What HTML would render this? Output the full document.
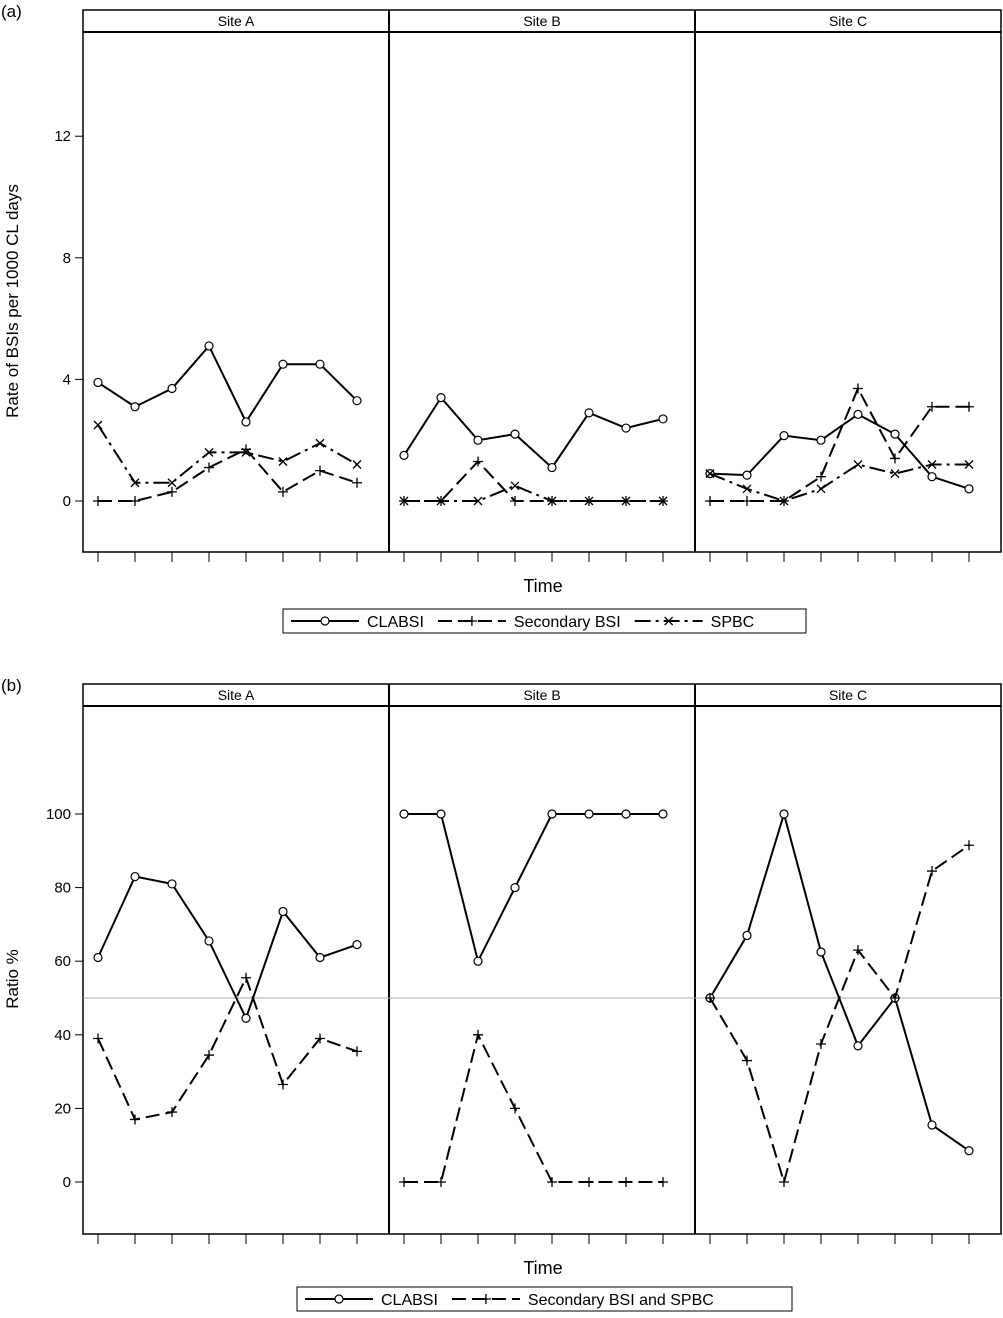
<!DOCTYPE html>
<html><head><meta charset="utf-8"><style>
body{margin:0;background:#fff}
svg{display:block;font-family:"Liberation Sans",Arial,sans-serif}
</style></head><body>
<svg id="chart" width="1003" height="1318" viewBox="0 0 1003 1318"></svg>
<script>
const sites=["Site A","Site B","Site C"];
const aTicks=[0,4,8,12];
const aClabsi=[[3.9,3.1,3.7,5.1,2.6,4.5,4.5,3.3],[1.5,3.4,2.0,2.2,1.1,2.9,2.4,2.7],[0.9,0.85,2.15,2.0,2.85,2.2,0.8,0.4]];
const aSecondary=[[0,0,0.3,1.1,1.7,0.3,1.0,0.6],[0,0,1.3,0,0,0,0,0],[0,0,0,0.8,3.7,1.4,3.1,3.1]];
const aSpbc=[[2.5,0.6,0.6,1.6,1.6,1.3,1.9,1.2],[0,0,0,0.5,0,0,0,0],[0.9,0.4,0,0.4,1.2,0.9,1.2,1.2]];
const bTicks=[0,20,40,60,80,100];
const bClabsi=[[61,83,81,65.5,44.5,73.5,61,64.5],[100,100,60,80,100,100,100,100],[50,67,100,62.5,37,50,15.5,8.5]];
const bSecondary=[[39,17,19,34.5,55.5,26.5,39,35.5],[0,0,40,20,0,0,0,0],[50,33,0,37.5,63,50,84.5,91.5]];

const svg=document.getElementById('chart');
const NS="http://www.w3.org/2000/svg";
function mk(tag,attrs,parent,name,txt){const e=document.createElementNS(NS,tag);for(const k in attrs)e.setAttribute(k,attrs[k]);


if(txt!==undefined)e.textContent=txt;(parent||svg).appendChild(e);return e;}
const L=83,R=1001,panelW=(R-L)/3;
function xPos(p,i){return L+p*panelW+15+i*37;}

function panel(cfg){
  const g=mk('g',{},svg,cfg.name);
  const yS=v=>cfg.y0-(v-cfg.min)*cfg.scale;
  mk('text',{x:1,y:cfg.top+7,'font-size':17},g,'panel-label',cfg.label);
  mk('rect',{x:L,y:cfg.top,width:R-L,height:cfg.bottom-cfg.top,fill:'none',stroke:'#000','stroke-width':1.5},g,'plot-frame');
  mk('line',{x1:L,x2:R,y1:cfg.top+22,y2:cfg.top+22,stroke:'#000','stroke-width':2},g,'strip-bottom');
  for(let p=1;p<3;p++)mk('line',{x1:L+p*panelW,x2:L+p*panelW,y1:cfg.top,y2:cfg.bottom,stroke:'#000','stroke-width':2},g,'panel-divider');
  sites.forEach((s,p)=>mk('text',{x:L+p*panelW+panelW/2,y:cfg.top+16,'font-size':14,'text-anchor':'middle'},g,'strip-'+s.toLowerCase().replace(' ','-'),s));
  cfg.ticks.forEach(t=>{const y=yS(t);mk('line',{x1:L-8,x2:L,y1:y,y2:y,stroke:'#000'},g,'y-tick');
    mk('text',{x:L-12,y:y+5,'font-size':15,'text-anchor':'end'},g,'y-tick-label',t);});
  if(cfg.ref!==undefined)mk('line',{x1:L,x2:R,y1:yS(cfg.ref),y2:yS(cfg.ref),stroke:'#aaa'},g,'reference-line');
  for(let p=0;p<3;p++)for(let i=0;i<8;i++)mk('line',{x1:xPos(p,i),x2:xPos(p,i),y1:cfg.bottom,y2:cfg.bottom+10,stroke:'#000'},g,'x-tick');
  mk('text',{x:543,y:cfg.bottom+40,'font-size':18,'text-anchor':'middle'},g,'x-axis-title','Time');
  const cy=(cfg.top+cfg.bottom)/2+20;
  mk('text',{x:18,y:cy,'font-size':17,'text-anchor':'middle',transform:`rotate(-90 18 ${cy})`},g,'y-axis-title',cfg.ytitle);
  cfg.series.forEach(se=>{
    for(let p=0;p<3;p++){
      const pts=se.data[p].map((v,i)=>xPos(p,i)+','+yS(v)).join(' ');
      mk('polyline',{points:pts,fill:'none',stroke:'#000','stroke-width':2,'stroke-dasharray':se.dash},g,se.name+'-line');
      se.data[p].forEach((v,i)=>marker(g,se.mark,xPos(p,i),yS(v),se.name+'-marker'));
    }
  });
  const lg=mk('g',{},g,'legend');
  mk('rect',{x:cfg.leg[0],y:cfg.leg[1],width:cfg.leg[2],height:24,fill:'#fff',stroke:'#000'},lg,'legend-box');
  let x=cfg.leg[0]+8;const ly=cfg.leg[1]+12;
  cfg.series.forEach(se=>{
    mk('line',{x1:x,x2:x+68,y1:ly,y2:ly,stroke:'#000','stroke-width':2,'stroke-dasharray':se.dash},lg,'legend-line');
    marker(lg,se.mark,x+34,ly,'legend-marker');
    const t=mk('text',{x:x+76,y:ly+6,'font-size':16},lg,'legend-entry',se.title);
    x+=76+t.getComputedTextLength()+14;
  });
}
function marker(g,m,x,y,name){
  if(m==='o')mk('circle',{cx:x,cy:y,r:4,fill:'#fff',stroke:'#000','stroke-width':1.2},g,name);
  else if(m==='+')mk('path',{d:`M${x-5},${y}H${x+5}M${x},${y-5}V${y+5}`,stroke:'#000','stroke-width':1.3},g,name);
  else mk('path',{d:`M${x-4},${y-4}L${x+4},${y+4}M${x-4},${y+4}L${x+4},${y-4}`,stroke:'#000','stroke-width':1.3},g,name);
}
panel({name:'panel-a',label:'(a)',top:10,bottom:552,y0:501,min:0,scale:30.4,ticks:aTicks,
  ytitle:'Rate of BSIs per 1000 CL days',leg:[283,609,523],
  series:[{name:'clabsi',title:'CLABSI',data:aClabsi,mark:'o',dash:'none'},
          {name:'secondary-bsi',title:'Secondary BSI',data:aSecondary,mark:'+',dash:'14 6'},
          {name:'spbc',title:'SPBC',data:aSpbc,mark:'x',dash:'16 5 3 5'}]});
panel({name:'panel-b',label:'(b)',top:684,bottom:1234,y0:1182,min:0,scale:3.68,ticks:bTicks,ref:50,
  ytitle:'Ratio %',leg:[297,1287,495],
  series:[{name:'clabsi',title:'CLABSI',data:bClabsi,mark:'o',dash:'none'},
          {name:'secondary-bsi-spbc',title:'Secondary BSI and SPBC',data:bSecondary,mark:'+',dash:'14 6'}]});
</script>
</body></html>
